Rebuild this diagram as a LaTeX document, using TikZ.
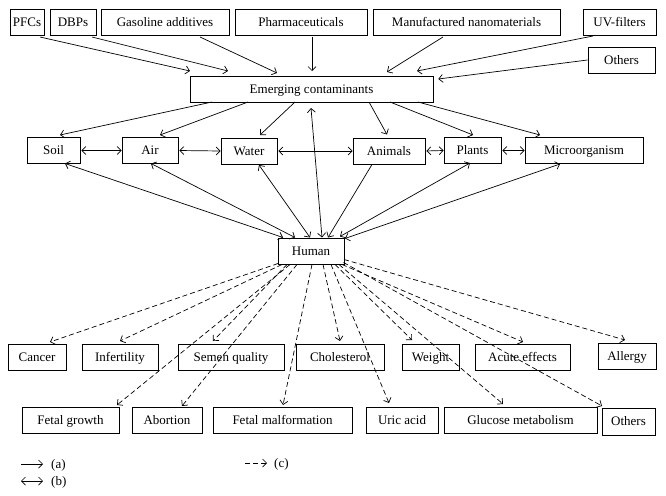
\documentclass[tikz,border=0pt]{standalone}
\usepackage{fontspec}
\setmainfont{Liberation Serif}
\usetikzlibrary{arrows.meta,calc}
\begin{document}
\begin{tikzpicture}[x=1pt,y=-1pt,
  box/.style={draw, line width=0.8pt, inner sep=0pt, minimum height=26pt, text height=10pt, text depth=1.4pt, font=\fontsize{13}{15}\selectfont},
  arr/.style={line width=0.7pt, -{Straight Barb[length=4pt,width=8pt]}},
  darr/.style={line width=0.7pt, {Straight Barb[length=4pt,width=8pt]}-{Straight Barb[length=4pt,width=8pt]}},
  dasharr/.style={arr, dash pattern=on 5pt off 3pt},
  legtext/.style={anchor=west, inner sep=0pt, text height=10pt, text depth=1.4pt, font=\fontsize{13}{15}\selectfont}]
\useasboundingbox (0,0) rectangle (666,495);
% top row
\node[box, minimum width=34pt] (pfc) at (27,22) {PFCs};
\node[box, minimum width=46pt] (dbp) at (73,22) {DBPs};
\node[box, minimum width=128pt] (gas) at (165,22) {Gasoline additives};
\node[box, minimum width=132pt] (pharm) at (301,22) {Pharmaceuticals};
\node[box, minimum width=187pt] (nano) at (466.5,22) {Manufactured nanomaterials};
\node[box, minimum width=73pt] (uv) at (619.5,22) {UV-filters};
\node[box, minimum width=67pt] (oth1) at (621.5,60) {Others};
\node[box, minimum width=243pt] (ec) at (311.5,89) {Emerging contaminants};
% middle row
\node[box, minimum width=53pt] (soil) at (53.5,150.5) {Soil};
\node[box, minimum width=56pt] (air) at (150,150.5) {Air};
\node[box, minimum width=56pt] (water) at (249,151) {Water};
\node[box, minimum width=72pt] (animals) at (389,151) {Animals};
\node[box, minimum width=57pt] (plants) at (472.5,150.5) {Plants};
\node[box, minimum width=118pt] (micro) at (584,150.5) {Microorganism};
\node[box, minimum width=66pt] (human) at (311,251) {Human};
% row 3
\node[box, minimum width=58pt] (cancer) at (37,357) {Cancer};
\node[box, minimum width=76pt] (infert) at (120,357) {Infertility};
\node[box, minimum width=106pt] (semen) at (231,357) {Semen quality};
\node[box, minimum width=88pt] (chol) at (340,357) {Cholesterol};
\node[box, minimum width=57pt] (weight) at (430.5,357) {Weight};
\node[box, minimum width=95pt] (acute) at (522.5,357) {Acute effects};
\node[box, minimum width=58pt] (allergy) at (627,356.5) {Allergy};
% row 4
\node[box, minimum width=97pt] (fgrowth) at (70.5,420) {Fetal growth};
\node[box, minimum width=70pt] (abort) at (167,420) {Abortion};
\node[box, minimum width=139pt] (fmal) at (282.5,420) {Fetal malformation};
\node[box, minimum width=72pt] (uric) at (402,420) {Uric acid};
\node[box, minimum width=153pt] (glucose) at (520.5,420.5) {Glucose metabolism};
\node[box, minimum width=53pt, minimum height=27pt] (oth2) at (628.5,421.5) {Others};
% sources -> emerging
\draw[arr] ($(pfc)+(13,15)$) -- ($(ec)+(-121.5,-18)$);
\draw[arr] ($(dbp)+(19,15)$) -- ($(ec)+(-83.5,-18)$);
\draw[arr] ($(gas)+(35,15)$) -- ($(ec)+(-34.5,-16)$);
\draw[arr] ($(pharm)+(11,15)$) -- ($(ec)+(0.5,-18)$);
\draw[arr] ($(nano)+(-23.5,15)$) -- ($(ec)+(75.5,-17)$);
\draw[arr] ($(uv)+(-26.5,14)$) -- ($(ec)+(105.5,-18)$);
\draw[arr] (oth1.west) -- ($(ec)+(126.8,-10)$);
% emerging -> compartments
\draw[arr] ($(ec)+(-99.5,13)$) -- ($(soil)+(6.5,-15.5)$);
\draw[arr] ($(ec)+(-63.5,13)$) -- ($(air)+(10,-15.5)$);
\draw[arr] ($(ec)+(-16.5,13)$) -- ($(water)+(11,-16)$);
\draw[arr] ($(ec)+(57.5,13)$) -- ($(animals)+(-2,-16.5)$);
\draw[arr] ($(ec)+(78.5,13)$) -- ($(plants)+(0.5,-15.5)$);
\draw[arr] ($(ec)+(106.5,13)$) -- ($(micro)+(-44,-15.5)$);
% horizontal exchanges
\draw[darr, shorten <=1pt] (soil.east) -- (air.west);
\draw[darr, shorten <=1pt] (air.east) -- (water.west);
\draw[darr, shorten <=1pt] (water.east) -- (animals.west);
\draw[darr, shorten <=1pt] (animals.east) -- (plants.west);
\draw[darr, shorten <=1pt] (plants.east) -- (micro.west);
% to human
\draw[darr] ($(soil)+(11.5,13)$) -- ($(human)+(-28,-13.5)$);
\draw[darr] ($(air)+(1,13)$) -- ($(human)+(-16,-13.5)$);
\draw[darr] ($(water)+(10,14)$) -- ($(human)+(-1,-13.5)$);
\draw[darr] ($(ec)+(-0.5,19)$) -- ($(human)+(11,-13.5)$);
\draw[arr] ($(animals)+(-17,13.5)$) -- ($(human)+(17,-13.5)$);
\draw[darr] ($(plants)+(-2.5,12.5)$) -- ($(human)+(29,-14.5)$);
\draw[darr] ($(micro)+(-24,13.5)$) -- ($(human)+(34,-12.5)$);
% effects
\draw[dasharr] ($(human)+(-33,12.5)$) -- ($(cancer)+(13,-15)$);
\draw[dasharr] ($(human)+(-29,13.5)$) -- ($(infert)+(0,-16)$);
\draw[dasharr] ($(human)+(-24,13.5)$) -- ($(semen)+(-18,-16)$);
\draw[dasharr] ($(human)+(-21,13.5)$) -- ($(fgrowth)+(46.5,-15)$);
\draw[dasharr] ($(human)+(-14,13.5)$) -- ($(abort)+(15,-14)$);
\draw[dasharr] ($(human)+(1,13.5)$) -- ($(fmal)+(0.5,-15)$);
\draw[dasharr] ($(human)+(12,13.5)$) -- ($(chol)+(0,-16)$);
\draw[dasharr] ($(human)+(20,13.5)$) -- ($(uric)+(-13,-17)$);
\draw[dasharr] ($(human)+(24,13.5)$) -- ($(weight)+(-18.5,-17)$);
\draw[dasharr] ($(human)+(28,13.5)$) -- ($(glucose)+(-17.5,-16.5)$);
\draw[dasharr] ($(human)+(31,13.5)$) -- ($(acute)+(0.5,-15)$);
\draw[dasharr] ($(human)+(32.5,11.5)$) -- ($(oth2)+(-26.5,-15.5)$);
\draw[dasharr] ($(human)+(33,8.5)$) -- ($(allergy)+(-2,-16.5)$);
% legend
\coordinate (la0) at (21,464); \coordinate (la1) at (43,464);
\coordinate (lb0) at (21,481); \coordinate (lb1) at (43,481);
\coordinate (lc0) at (245,463); \coordinate (lc1) at (267,463);
\draw[arr] (la0) -- (la1);
\draw[darr] (lb0) -- (lb1);
\draw[dasharr] (lc0) -- (lc1);
\node[legtext] (la) at (51,464) {(a)};
\node[legtext] (lb) at (51,481) {(b)};
\node[legtext] (lc) at (274,463) {(c)};
\end{tikzpicture}
\end{document}
